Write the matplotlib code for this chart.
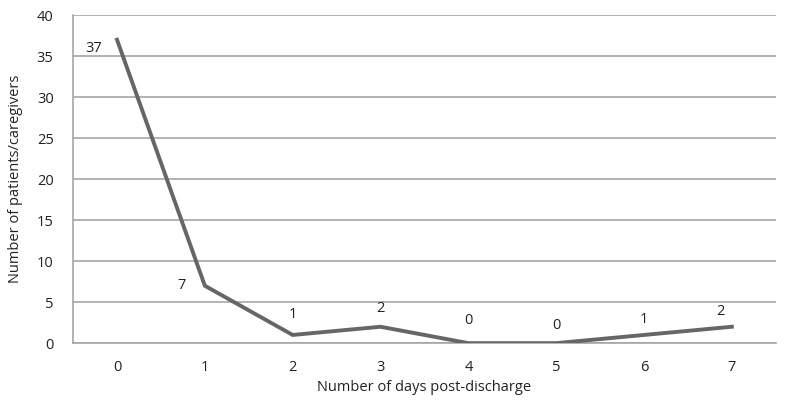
import matplotlib.pyplot as plt

days = ["0", "1", "2", "3", "4", "5", "6", "7"]
counts = [37, 7, 1, 2, 0, 0, 1, 2]
y_ticks = [0, 5, 10, 15, 20, 25, 30, 35, 40]

# label offsets (points) for each data label, as in the original
offsets = [(-17, -6), (-17, 0), (0, 15), (0, 13), (0, 16), (0, 13), (0, 11), (-8, 11)]

plt.rcParams['font.family'] = ['Open Sans', 'DejaVu Sans']
fs = 10.5

fig = plt.figure(figsize=(7.86, 4.09), dpi=100)
ax = fig.add_axes([0.093, 0.161, 0.894, 0.802])

x = list(range(len(days)))
ax.plot(x, counts, color='#666666', lw=2.8, solid_joinstyle='miter', zorder=3)

for xi, v, (dx, dy) in zip(x, counts, offsets):
    ax.annotate(str(v), (xi, v), xytext=(dx, dy), textcoords='offset points',
                ha='center', va='center', fontsize=fs, color='#222222')

ax.set_xlim(-0.5, len(days) - 0.5)
ax.set_ylim(0, 40)
ax.set_xticks(x)
ax.set_xticklabels(days)
ax.set_yticks(y_ticks)
ax.yaxis.grid(True, color='#a6a6a6', lw=1.2)
ax.set_axisbelow(True)

for s in ['top', 'right']:
    ax.spines[s].set_visible(False)
ax.spines['left'].set_color('#a6a6a6')
ax.spines['bottom'].set_color('#a6a6a6')
ax.spines['left'].set_linewidth(1.2)
ax.spines['bottom'].set_linewidth(1.2)

ax.tick_params(axis='both', length=0, labelsize=fs, colors='#222222')
ax.tick_params(axis='x', pad=12)
ax.tick_params(axis='y', pad=14)

ax.set_xlabel("Number of days post-discharge", fontsize=fs, color='#222222', labelpad=4)
ax.set_ylabel("Number of patients/caregivers", fontsize=fs, color='#222222', labelpad=10)

fig.savefig("out.png", dpi=100)
